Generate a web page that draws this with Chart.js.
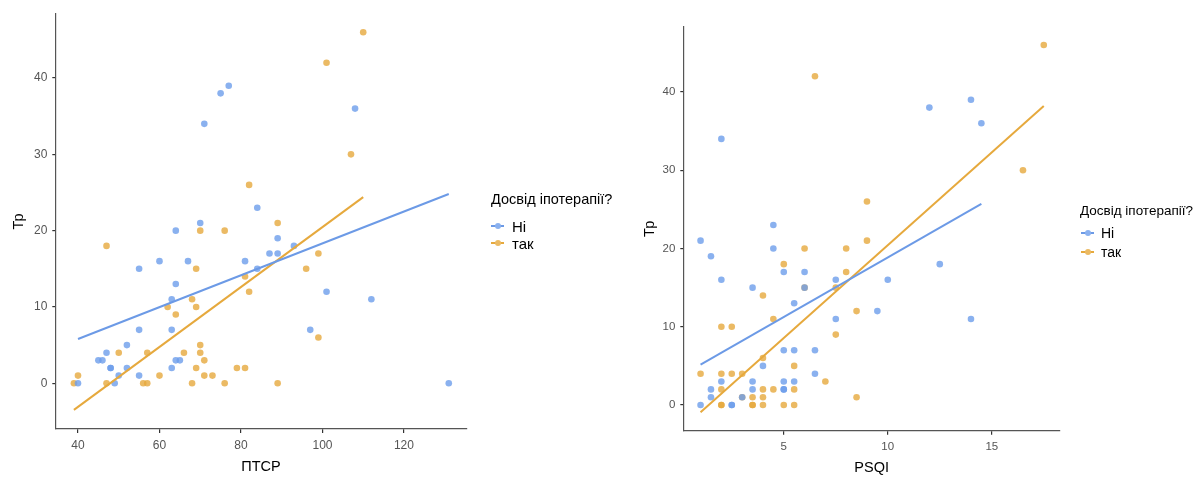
<!DOCTYPE html>
<html><head><meta charset="utf-8">
<script src="https://cdn.jsdelivr.net/npm/chart.js@4/dist/chart.umd.min.js"></script>
<style>
body{margin:0;width:1200px;height:478px;background:#fff;position:relative;overflow:hidden;font-family:"Liberation Sans",Arial,sans-serif;}
canvas{position:absolute;top:0;}
.t{position:absolute;color:#000;white-space:nowrap;transform:translateY(-50%);line-height:1;}
.k{position:absolute;height:2px;width:13px;transform:translateY(-50%);}
.k i{position:absolute;left:3.5px;top:-2.5px;width:6.5px;height:6.5px;border-radius:50%;}
</style></head><body>
<canvas id="c1" width="600" height="478" style="left:0"></canvas>
<canvas id="c2" width="600" height="478" style="left:600px"></canvas>
<div class="t" style="left:491px;top:199px;font-size:14.5px">Досвід іпотерапії?</div>
<div class="k" style="left:491px;top:226px;background:#6c9ae6"><i style="background:#8ab1ef"></i></div>
<div class="t" style="left:512px;top:226px;font-size:15px">Ні</div>
<div class="k" style="left:491px;top:243px;background:#e6a93d"><i style="background:#ebba64"></i></div>
<div class="t" style="left:512px;top:243px;font-size:15px">так</div>
<div class="t" style="left:1080px;top:211px;font-size:13.5px">Досвід іпотерапії?</div>
<div class="k" style="left:1081px;top:233px;background:#6c9ae6"><i style="background:#8ab1ef"></i></div>
<div class="t" style="left:1101px;top:233px;font-size:14px">Ні</div>
<div class="k" style="left:1081px;top:252px;background:#e6a93d"><i style="background:#ebba64"></i></div>
<div class="t" style="left:1101px;top:252px;font-size:14px">так</div>
<script>
// ---- Left panel: ПТСР vs Тр ----
const ptsrNiX  = [77,75,71,108,84,70,64,89,87,89,93,60,67,81,55,84,64,63,55,63,52,45,46,47,64,65,48,48,52,63,50,55,40,49,101,112,97,131];
const ptsrNiY  = [39,38,34,36,23,21,20,19,17,17,18,16,16,16,15,15,13,11,7,7,5,3,3,4,3,3,2,2,2,2,1,1,0,0,12,11,7,0];
const ptsrTakX = [110,101,107,82,89,70,76,47,69,81,82,68,62,69,64,70,50,57,66,70,71,69,79,81,40,60,71,73,39,47,56,57,68,76,89,99,96,99];
const ptsrTakY = [46,42,30,26,21,20,20,18,15,14,12,11,10,10,9,5,4,4,4,4,3,2,2,2,1,1,1,1,0,0,0,0,0,0,0,17,15,6];
const ptsrFitNiX  = [40,131];
const ptsrFitNiY  = [5.8,24.8];
const ptsrFitTakX = [39,110];
const ptsrFitTakY = [-3.5,24.4];
const ptsrXTicks = [40,60,80,100,120];
const ptsrYTicks = [0,10,20,30,40];

// ---- Right panel: PSQI vs Тр ----
const psqiNiX  = [2,4.5,14,12,14.5,1,4.5,1.5,5,6,2,7.5,3.5,6,5.5,9.5,7.5,5,5.5,6.5,4,6.5,2,3.5,5,5.5,1.5,3.5,5,5,1.5,3,1,2.5,2.5,12.5,10,14];
const psqiNiY  = [34,23,39,38,36,21,20,19,17,17,16,16,15,15,13,12,11,7,7,7,5,4,3,3,3,3,2,2,2,2,1,1,0,0,0,18,16,11];
const psqiTakX = [6.5,9,17.5,16.5,6,8,9,5,8,6,7.5,4,8.5,4.5,2,2.5,7.5,4,5.5,1,2,2.5,3,7,2,4,4.5,5.5,8.5,3,3.5,4,2,2,3.5,3.5,4,5,5.5];
const psqiTakY = [42,26,46,30,20,20,21,18,17,15,15,14,12,11,10,10,9,6,5,4,4,4,4,3,2,2,2,2,1,1,1,1,0,0,0,0,0,0,0];
const psqiFitNiX  = [1,14.5];
const psqiFitNiY  = [5.15,25.7];
const psqiFitTakX = [1,17.5];
const psqiFitTakY = [-0.93,38.2];
const psqiXTicks = [5,10,15];
const psqiYTicks = [0,10,20,30,40];

const BLUE_PT='rgba(109,158,235,0.8)', ORANGE_PT='rgba(230,169,61,0.8)';
const BLUE_LN='#6c9ae6', ORANGE_LN='#e6a93d';
const pairs=(xs,ys)=>xs.map((x,i)=>({x:x,y:ys[i]}));

function makeChart(id,c){
  const ptDs=(label,xs,ys,col)=>({type:'scatter',label,data:pairs(xs,ys),backgroundColor:col,borderWidth:0,pointRadius:3.3,pointHoverRadius:3.3,order:2});
  const lnDs=(label,xs,ys,col)=>({type:'line',label,data:pairs(xs,ys),borderColor:col,borderWidth:2,pointRadius:0,fill:false,order:1});
  return new Chart(document.getElementById(id),{
    type:'scatter',
    data:{datasets:[
      ptDs('Ні',c.niX,c.niY,BLUE_PT),
      ptDs('так',c.takX,c.takY,ORANGE_PT),
      lnDs('Ні fit',c.fNiX,c.fNiY,BLUE_LN),
      lnDs('так fit',c.fTakX,c.fTakY,ORANGE_LN)
    ]},
    options:{
      responsive:false,animation:false,devicePixelRatio:1,
      layout:{padding:{left:0,top:c.top,right:c.right,bottom:0}},
      plugins:{legend:{display:false},tooltip:{enabled:false}},
      scales:{
        x:{type:'linear',min:c.xMin,max:c.xMax,
          afterBuildTicks:s=>{s.ticks=c.xTicks.map(v=>({value:v}));},
          afterFit:s=>{s.height=c.xH;},
          grid:{drawOnChartArea:false,drawTicks:true,tickLength:4,tickColor:'#333',lineWidth:1.2},
          border:{display:true,color:'#555',width:1.2},
          ticks:{color:'#555',font:{family:'Liberation Sans',size:c.tf},padding:5,maxRotation:0},
          title:{display:true,text:c.xTitle,color:'#000',font:{family:'Liberation Sans',size:14.5},padding:{top:0,bottom:c.xtPad}}
        },
        y:{type:'linear',min:c.yMin,max:c.yMax,
          afterBuildTicks:s=>{s.ticks=c.yTicks.map(v=>({value:v}));},
          afterFit:s=>{s.width=c.yW;},
          grid:{drawOnChartArea:false,drawTicks:true,tickLength:3,tickColor:'#333',lineWidth:1.2},
          border:{display:true,color:'#555',width:1.2},
          ticks:{color:'#555',font:{family:'Liberation Sans',size:c.tf},padding:5},
          title:{display:true,text:'Тр',color:'#000',font:{family:'Liberation Sans',size:14.5},padding:{top:c.ytPad,bottom:0}}
        }
      }
    }
  });
}

makeChart('c1',{niX:ptsrNiX,niY:ptsrNiY,takX:ptsrTakX,takY:ptsrTakY,
  fNiX:ptsrFitNiX,fNiY:ptsrFitNiY,fTakX:ptsrFitTakX,fTakY:ptsrFitTakY,
  xTicks:ptsrXTicks,yTicks:ptsrYTicks,xMin:34.43,xMax:135.4,yMin:-6.0,yMax:48.4,
  top:14,right:133.3,xH:49,yW:55.3,xTitle:'ПТСР',xtPad:2,ytPad:10.6,tf:12});
makeChart('c2',{niX:psqiNiX,niY:psqiNiY,takX:psqiTakX,takY:psqiTakY,
  fNiX:psqiFitNiX,fNiY:psqiFitNiY,fTakX:psqiFitTakX,fTakY:psqiFitTakY,
  xTicks:psqiXTicks,yTicks:psqiYTicks,xMin:0.17,xMax:18.28,yMin:-3.28,yMax:48.3,
  top:27,right:140,xH:47.3,yW:83.3,xTitle:'PSQI',xtPad:1,ytPad:41.6,tf:11.5});
</script>
</body></html>
